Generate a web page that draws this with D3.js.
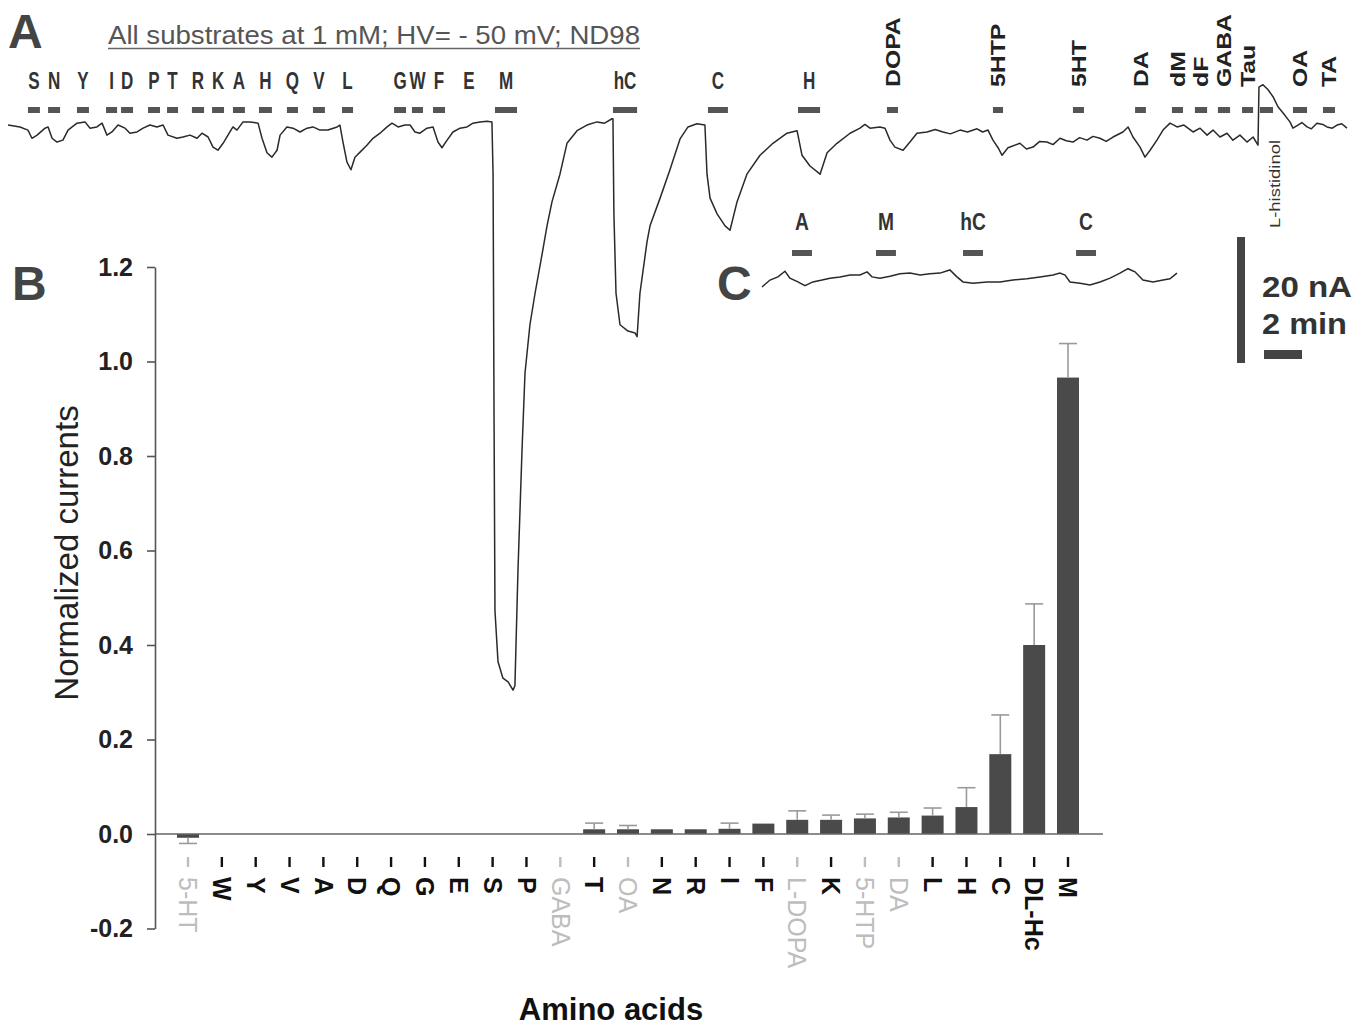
<!DOCTYPE html>
<html lang="en">
<head>
<meta charset="UTF-8"/>
<title>Substrate currents - ND98</title>
<script src="https://d3js.org/d3.v7.min.js"></script>
<style>
  body { margin: 0; background: #fff; }
  text { font-family: "Liberation Sans", Arial, sans-serif; }
</style>
</head>
<body>
<div id="chart"></div>
<script>

// ---------- Panel A : stimulus protocol (times in min) ----------
var stimNames = ["S","N","Y","I","D","P","T","R","K","A","H","Q","V","L","G","W","F","E","M","hC","C","H",
                 "DOPA","5HTP","5HT","DA","dM","dF","GABA","Tau","L-histidinol","OA","TA"];
var stimStart = [1.05,2.11,3.63,5.16,5.95,7.37,8.37,9.68,10.74,11.84,13.21,14.68,16.05,17.58,20.32,21.26,22.37,24.26,25.63,31.84,36.84,41.58,
                 46.26,51.84,56.05,59.32,61.26,62.47,63.68,64.95,65.89,67.63,69.21];
var stimEnd   = [1.68,2.74,4.26,5.74,6.58,8.0,8.95,10.32,11.37,12.47,13.89,15.26,16.68,18.16,20.95,21.84,23.0,24.26,26.79,33.11,37.89,42.74,
                 46.84,52.37,56.63,59.89,61.84,63.11,64.32,65.53,66.58,68.37,69.84];
var rotatedNames = ["DOPA","5HTP","5HT","DA","dM","dF","GABA","Tau","OA","TA"];

// recorded current, [time (min), current (nA)]
var traceA = [
  [0,-0.8],[0.63,-1.1],[1.05,-1.6],[1.26,-2.9],[1.53,-2.4],[1.95,-1.3],[2.11,-1.1],[2.32,-2.9],[2.58,-3.5],[2.89,-3.2],
  [3.16,-1.6],[3.63,-0.5],[4.05,-0.3],[4.32,-1.3],[4.68,-1.1],[4.95,-0.5],[5.21,-2.4],[5.47,-1.9],[5.79,-0.8],[6.16,-1.3],
  [6.42,-2.1],[6.79,-1.9],[7.11,-1.3],[7.47,-0.8],[7.84,-1.1],[8.16,-0.8],[8.42,-2.4],[8.89,-2.9],[9.21,-2.7],[9.58,-2.4],
  [9.95,-2.9],[10.21,-2.1],[10.53,-2.7],[10.79,-4.3],[11.05,-4.8],[11.32,-3.7],[11.68,-1.9],[11.84,-1.1],[12.05,-1.6],[12.37,-0.3],
  [12.74,-0.3],[13.16,-0.5],[13.37,-2.9],[13.63,-5.2],[13.89,-5.9],[14.16,-4.8],[14.32,-2.4],[14.68,-1.1],[15.0,-1.3],[15.37,-1.9],
  [15.74,-1.3],[16.05,-1.1],[16.42,-1.6],[16.84,-1.6],[17.32,-1.1],[17.47,-0.8],[17.63,-3.5],[17.84,-6.7],[18.05,-7.9],[18.26,-5.9],
  [18.53,-5.1],[18.89,-4.0],[19.21,-2.9],[19.58,-2.1],[19.95,-1.1],[20.21,-0.5],[20.53,-1.1],[20.89,-0.8],[21.16,-0.8],[21.42,-1.9],
  [21.68,-2.1],[22.05,-1.3],[22.37,-1.1],[22.63,-3.5],[22.84,-4.4],[23.11,-3.2],[23.42,-1.9],[23.79,-1.3],[24.16,-1.1],[24.47,-0.5],
  [24.84,-0.3],[25.21,-0.2],[25.47,-0.3],[25.53,-8.6],[25.58,-46.3],[25.63,-77.9],[25.79,-86.0],[26.05,-88.6],[26.32,-89.2],[26.58,-90.5],
  [26.68,-89.8],[26.84,-71.6],[27.05,-52.7],[27.21,-40.2],[27.47,-32.5],[27.74,-27.5],[28.11,-21.3],[28.37,-16.8],[28.63,-13.0],[29.05,-8.6],
  [29.42,-3.7],[29.95,-1.7],[30.47,-0.8],[31.0,-0.3],[31.4,-0.5],[31.79,0.2],[31.84,0.2],[31.89,-14.9],[32.0,-27.5],[32.21,-32.5],[32.63,-33.5],
  [33.0,-33.8],[33.11,-34.4],[33.26,-27.5],[33.63,-19.4],[33.79,-16.8],[34.32,-12.4],[34.84,-7.9],[35.37,-3.0],[35.79,-1.1],[36.26,-0.6],
  [36.68,-0.8],[36.79,-8.6],[36.95,-12.4],[37.32,-14.9],[37.74,-16.8],[38.0,-17.5],[38.37,-13.0],[38.89,-8.6],[39.58,-5.6],[40.26,-3.7],
  [41.0,-2.1],[41.53,-1.7],[41.79,-5.6],[42.21,-7.3],[42.74,-8.6],[43.11,-5.2],[43.63,-3.7],[44.32,-2.1],[44.84,-1.3],[45.1,-0.7],[45.37,-1.3],
  [45.89,-1.1],[46.16,-1.3],[46.42,-3.2],[46.68,-4.3],[47.11,-4.8],[47.47,-3.5],[47.84,-2.1],[48.37,-1.9],[48.8,-1.5],[49.21,-1.9],
  [49.6,-2.2],[50.11,-1.6],[50.5,-1.9],[51.0,-1.4],[51.3,-1.9],[51.58,-1.6],[51.84,-3.2],[52.11,-4.4],[52.32,-5.6],[52.63,-4.4],
  [53.26,-3.7],[53.6,-4.6],[53.95,-4.3],[54.3,-3.4],[54.68,-3.5],[55.0,-3.9],[55.37,-2.9],[55.7,-3.3],[56.05,-3.5],[56.4,-2.8],
  [56.79,-3.2],[57.1,-2.6],[57.47,-2.9],[57.8,-3.4],[58.16,-2.7],[58.68,-1.9],[58.95,-1.1],[59.21,-2.7],[59.58,-4.3],[59.84,-5.9],[60.11,-4.8],
  [60.47,-3.2],[60.79,-1.6],[61.16,-0.5],[61.53,-1.1],[61.89,-0.8],[62.37,-1.9],[62.74,-1.3],[63.11,-2.4],[63.42,-1.6],[63.79,-2.7],
  [64.16,-2.1],[64.47,-3.2],[64.84,-2.4],[65.21,-3.5],[65.53,-2.7],[65.79,-4.0],[65.84,5.2],[66.05,5.6],[66.32,4.8],[66.58,3.7],
  [66.84,2.1],[67.11,1.1],[67.47,-0.3],[67.63,-1.3],[67.89,-0.8],[68.1,-0.4],[68.37,-1.1],[68.6,-1.4],[68.89,-0.5],[69.2,-0.7],
  [69.42,-1.1],[69.7,-1.3],[69.95,-0.8],[70.2,-0.6],[70.47,-1.3]
];

// ---------- Panel C : control oocyte ----------
var insetNames = ["A","M","hC","C"];
var insetStart = [1.58, 6.0, 10.58, 16.53];
var insetEnd   = [2.63, 7.05, 11.63, 17.58];
var traceC = [
  [0,-1.9],[0.42,-0.8],[0.84,-0.3],[1.21,0.6],[1.47,-0.5],[1.89,-1.1],[2.26,-1.7],[2.68,-1.1],[3.16,-0.8],[3.58,-0.5],
  [4.11,-0.3],[4.63,0],[5.16,0],[5.53,0.5],[5.79,-0.3],[6.21,-0.5],[6.74,-0.2],[7.26,0.2],[7.79,0.3],[8.32,0],
  [8.84,0.2],[9.37,0.3],[9.89,0.8],[10.26,-0.3],[10.58,-1.1],[11.11,-1.3],[11.84,-1.1],[12.53,-1.1],[13.21,-0.8],[13.95,-0.6],
  [14.63,-0.3],[15.32,0],[15.68,0.3],[15.95,0],[16.21,-1.1],[16.74,-1.3],[17.26,-1.6],[17.79,-1.1],[18.32,-0.5],[18.84,0.3],
  [19.26,1.0],[19.63,0.5],[20.05,-0.8],[20.58,-1.1],[21.11,-0.8],[21.47,-0.6],[21.84,0.3]
];

// ---------- Panel B : normalized currents ----------
var aminoAcids = ["5-HT","W","Y","V","A","D","Q","G","E","S","P","GABA","T","OA","N","R","I","F",
                  "L-DOPA","K","5-HTP","DA","L","H","C","DL-Hc","M"];
var meanCurrent = [-0.008,0,0,0,0,0,0,0,0,0,0,0,0.01,0.01,0.01,0.01,0.011,0.022,
                   0.03,0.03,0.033,0.035,0.039,0.057,0.169,0.40,0.966];
var semCurrent  = [0.012,0,0,0,0,0,0,0,0,0,0,0,0.013,0.008,0,0,0.012,0,
                   0.019,0.01,0.009,0.011,0.016,0.041,0.083,0.087,0.072];
var greyLabels = ["5-HT","GABA","OA","L-DOPA","5-HTP","DA"];
var yTicks = [-0.2,0,0.2,0.4,0.6,0.8,1.0,1.2];

var W = 1372, H = 1028;
var svg = d3.select("#chart").append("svg").attr("width", W).attr("height", H);
svg.append("rect").attr("width", W).attr("height", H).attr("fill", "#fff");

// squeeze / stretch a text along its own direction
function stretch(sel, f) {
  sel.each(function() {
    var len = this.getComputedTextLength();
    d3.select(this).attr("textLength", len * f).attr("lengthAdjust", "spacingAndGlyphs");
  });
}

// panel letters
[["A", 8, 48], ["B", 12, 300], ["C", 717, 300]].forEach(function(p) {
  svg.append("text").attr("x", p[1]).attr("y", p[2]).text(p[0])
    .attr("font-size", 48).attr("font-weight", "bold").attr("fill", "#444");
});

// title of panel A
svg.append("text").attr("x", 108).attr("y", 44)
  .text("All substrates at 1 mM; HV= - 50 mV; ND98")
  .attr("font-size", 25).attr("fill", "#555")
  .attr("textLength", 532).attr("lengthAdjust", "spacingAndGlyphs");
svg.append("line").attr("x1", 108).attr("x2", 640).attr("y1", 48.5).attr("y2", 48.5)
  .attr("stroke", "#666").attr("stroke-width", 1.5);

// ---- trace A
var xTrace = d3.scaleLinear().domain([0, 70.5]).range([8, 1347.5]);
var yTrace = d3.scaleLinear().domain([0, -20]).range([120, 246]);

var stim = stimNames.map(function(n, i) { return {name: n, t0: stimStart[i], t1: stimEnd[i]}; });

svg.selectAll(".stimbar")
  .data(stim.filter(function(d) { return d.t1 > d.t0; }))
  .enter().append("rect")
  .attr("class", "stimbar")
  .attr("x", function(d) { return xTrace(d.t0); })
  .attr("y", 107)
  .attr("width", function(d) { return xTrace(d.t1) - xTrace(d.t0); })
  .attr("height", 6)
  .attr("fill", "#555");

var upright = stim.filter(function(d) { return rotatedNames.indexOf(d.name) < 0 && d.name !== "L-histidinol"; });
svg.selectAll(".uplab").data(upright).enter().append("text")
  .attr("class", "uplab")
  .attr("x", function(d) { return xTrace((d.t0 + d.t1) / 2); })
  .attr("y", 89)
  .attr("text-anchor", "middle")
  .attr("font-size", 23)
  .attr("font-weight", "bold")
  .attr("fill", "#333")
  .text(function(d) { return d.name; })
  .call(stretch, 0.74);

var rotated = stim.filter(function(d) { return rotatedNames.indexOf(d.name) >= 0; });
svg.selectAll(".rotlab").data(rotated).enter().append("text")
  .attr("class", "rotlab")
  .attr("transform", function(d) { return "translate(" + xTrace((d.t0 + d.t1) / 2) + ",87) rotate(-90)"; })
  .attr("dy", "0.35em")
  .attr("font-size", 21)
  .attr("font-weight", "bold")
  .attr("fill", "#222")
  .text(function(d) { return d.name; })
  .call(stretch, 1.18);

var hist = stim.filter(function(d) { return d.name === "L-histidinol"; })[0];
svg.append("text")
  .attr("transform", "translate(" + (xTrace((hist.t0 + hist.t1) / 2) + 8) + ",228) rotate(-90)")
  .attr("dy", "0.35em")
  .attr("font-size", 15)
  .attr("fill", "#333")
  .text(hist.name)
  .attr("textLength", 88).attr("lengthAdjust", "spacingAndGlyphs");

var lineA = d3.line()
  .x(function(d) { return xTrace(d[0]); })
  .y(function(d) { return yTrace(d[1]); });
svg.append("path").datum(traceA)
  .attr("d", lineA)
  .attr("fill", "none").attr("stroke", "#2a2a2a").attr("stroke-width", 1.5)
  .attr("stroke-linejoin", "round");

// ---- inset C
var xInset = d3.scaleLinear().domain([0, 21.84]).range([762, 762 + 21.84 * 19]);
var yInset = d3.scaleLinear().domain([0, -20]).range([275, 401]);

insetNames.forEach(function(n, i) {
  svg.append("rect")
    .attr("x", xInset(insetStart[i])).attr("y", 250)
    .attr("width", xInset(insetEnd[i]) - xInset(insetStart[i])).attr("height", 6)
    .attr("fill", "#555");
  svg.append("text")
    .attr("x", xInset((insetStart[i] + insetEnd[i]) / 2)).attr("y", 230)
    .attr("text-anchor", "middle").attr("font-size", 24).attr("font-weight", "bold").attr("fill", "#333")
    .text(n)
    .call(stretch, 0.8);
});

var lineC = d3.line()
  .x(function(d) { return xInset(d[0]); })
  .y(function(d) { return yInset(d[1]); });
svg.append("path").datum(traceC)
  .attr("d", lineC)
  .attr("fill", "none").attr("stroke", "#2a2a2a").attr("stroke-width", 1.5);

// scale bars (20 nA, 2 min)
svg.append("rect").attr("x", 1237).attr("y", 237)
  .attr("width", 8).attr("height", yTrace(-20) - yTrace(0)).attr("fill", "#444");
svg.append("rect").attr("x", 1264).attr("y", 350)
  .attr("width", xTrace(2) - xTrace(0)).attr("height", 9).attr("fill", "#444");
svg.append("text").attr("x", 1262).attr("y", 297).text("20 nA")
  .attr("font-size", 29).attr("font-weight", "bold").attr("fill", "#333")
  .attr("textLength", 90).attr("lengthAdjust", "spacingAndGlyphs");
svg.append("text").attr("x", 1262).attr("y", 334).text("2 min")
  .attr("font-size", 29).attr("font-weight", "bold").attr("fill", "#333")
  .attr("textLength", 85).attr("lengthAdjust", "spacingAndGlyphs");

// ---- bar chart B
var yBar = d3.scaleLinear().domain([-0.2, 1.2]).range([928.5, 267]);
var xBar = d3.scalePoint().domain(aminoAcids).range([188, 1068]);
var barW = 22;

var bars = aminoAcids.map(function(a, i) { return {name: a, v: meanCurrent[i], e: semCurrent[i]}; });

svg.selectAll(".bar").data(bars.filter(function(d) { return d.v !== 0; }))
  .enter().append("rect")
  .attr("class", "bar")
  .attr("x", function(d) { return xBar(d.name) - barW / 2; })
  .attr("y", function(d) { return Math.min(yBar(d.v), yBar(0)); })
  .attr("width", barW)
  .attr("height", function(d) { return Math.abs(yBar(d.v) - yBar(0)); })
  .attr("fill", "#4a4a4a");

var errs = bars.filter(function(d) { return d.e > 0; });
var errG = svg.selectAll(".err").data(errs).enter().append("g").attr("class", "err")
  .attr("stroke", "#9a9a9a").attr("stroke-width", 1.6);
errG.append("line")
  .attr("x1", function(d) { return xBar(d.name); })
  .attr("x2", function(d) { return xBar(d.name); })
  .attr("y1", function(d) { return yBar(d.v); })
  .attr("y2", function(d) { return yBar(d.v + (d.v < 0 ? -d.e : d.e)); });
errG.append("line")
  .attr("x1", function(d) { return xBar(d.name) - 9; })
  .attr("x2", function(d) { return xBar(d.name) + 9; })
  .attr("y1", function(d) { return yBar(d.v + (d.v < 0 ? -d.e : d.e)); })
  .attr("y2", function(d) { return yBar(d.v + (d.v < 0 ? -d.e : d.e)); });

// x axis line
svg.append("line").attr("x1", 155).attr("x2", 1103)
  .attr("y1", yBar(0)).attr("y2", yBar(0))
  .attr("stroke", "#666").attr("stroke-width", 1.6);

// y axis
var yAxis = d3.axisLeft(yBar).tickValues(yTicks).tickSize(8).tickSizeOuter(0).tickPadding(14)
  .tickFormat(function(d) { return d.toFixed(1); });
var gy = svg.append("g").attr("transform", "translate(155,0)").call(yAxis);
gy.select(".domain").attr("stroke", "#555").attr("stroke-width", 1.6);
gy.selectAll(".tick line").attr("stroke", "#555").attr("stroke-width", 1.6);
gy.selectAll(".tick text")
  .attr("font-family", "Liberation Sans, Arial, sans-serif")
  .attr("font-size", 25).attr("font-weight", "bold").attr("fill", "#222");

// category labels
var catColor = function(d) { return greyLabels.indexOf(d) >= 0 ? "#bdbdbd" : "#111"; };
svg.selectAll(".catdash").data(aminoAcids).enter().append("line")
  .attr("class", "catdash")
  .attr("x1", function(d) { return xBar(d); }).attr("x2", function(d) { return xBar(d); })
  .attr("y1", 857).attr("y2", 867)
  .attr("stroke", catColor).attr("stroke-width", 2.4);
svg.selectAll(".catlab").data(aminoAcids).enter().append("text")
  .attr("class", "catlab")
  .attr("transform", function(d) { return "translate(" + xBar(d) + ",877) rotate(90)"; })
  .attr("dy", "0.35em")
  .attr("font-size", 25)
  .attr("font-weight", function(d) { return greyLabels.indexOf(d) >= 0 ? "normal" : "bold"; })
  .attr("fill", catColor)
  .text(function(d) { return d; });

// axis titles
svg.append("text")
  .attr("transform", "translate(66,553) rotate(-90)")
  .attr("text-anchor", "middle").attr("dy", "0.35em")
  .attr("font-size", 33).attr("fill", "#222")
  .text("Normalized currents");
svg.append("text")
  .attr("x", 611).attr("y", 1020).attr("text-anchor", "middle")
  .attr("font-size", 31).attr("font-weight", "bold").attr("fill", "#111")
  .text("Amino acids");

</script>
</body>
</html>
